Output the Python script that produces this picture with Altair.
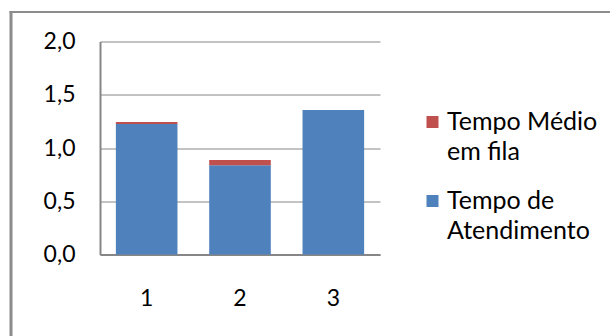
import altair as alt
import pandas as pd

# ---- data ----
categories = ["1", "2", "3"]
tempo_atendimento = [1.225, 0.838, 1.357]
tempo_fila = [0.019, 0.049, 0.0]
series_names = ["Tempo Médio\nem fila", "Tempo de\nAtendimento"]
series_colors = ["#C0504D", "#4F81BD"]
y_ticks = [0.0, 0.5, 1.0, 1.5, 2.0]

rows = []
for c, a, f in zip(categories, tempo_atendimento, tempo_fila):
    rows.append({"cat": c, "serie": series_names[1], "valor": a, "ordem": 0})
    rows.append({"cat": c, "serie": series_names[0], "valor": f, "ordem": 1})
df = pd.DataFrame(rows)

FONT = "Lato"
GRID = "#868686"

bars = alt.Chart(df).mark_bar().encode(
    x=alt.X(
        "cat:N", title=None, sort=categories,
        scale=alt.Scale(paddingInner=0.34, paddingOuter=0.17),
        axis=alt.Axis(labelAngle=0, ticks=False, tickSize=0, domainColor=GRID,
                      domainWidth=2, labelPadding=33, labelFontSize=23,
                      labelFont=FONT, labelColor="#000000", grid=False),
    ),
    y=alt.Y(
        "valor:Q", title=None, stack="zero",
        scale=alt.Scale(domain=[0, 2], nice=False),
        axis=alt.Axis(values=y_ticks,
                      labelExpr="replace(format(datum.value, '.1f'), '.', ',')",
                      ticks=False, tickSize=0, labelPadding=25, labelFontSize=23,
                      labelFont=FONT, labelColor="#000000", domainColor=GRID,
                      domainWidth=2, gridColor=GRID, gridWidth=1, grid=True),
    ),
    color=alt.Color(
        "serie:N",
        scale=alt.Scale(domain=series_names, range=series_colors),
        legend=alt.Legend(
            title=None, orient="none", legendX=320, legendY=68, padding=0,
            symbolType="square", symbolSize=144,
            symbolStrokeWidth=0, labelFont=FONT, labelFontSize=25,
            labelBaseline="middle", labelLimit=300,
            labelOffset=2, rowPadding=23, labelColor="#000000",
            labelExpr="split(datum.label, '\\n')",
        ),
    ),
    order=alt.Order("ordem:Q"),
)

frame_data = alt.Data(values=[{"k": 1}])
left_border = alt.Chart(frame_data).mark_rule(color="#8c8c8c", strokeWidth=3).encode(
    x=alt.value(-89), y=alt.value(-30.5), y2=alt.value(300)
)
top_border = alt.Chart(frame_data).mark_rule(color="#8c8c8c", strokeWidth=2).encode(
    x=alt.value(-90.5), x2=alt.value(520), y=alt.value(-29.5)
)

chart = alt.layer(bars, left_border, top_border).properties(
    width=280, height=213,
    autosize=alt.AutoSizeParams(type="none"),
    padding={"left": 100, "top": 41.5, "right": 230, "bottom": 81.5},
).configure(
    background="#ffffff",
    view=alt.ViewConfig(stroke="transparent"),
    style={"guide-label": {"lineHeight": 30}},
)

chart.save("out.html", embed_options={"renderer": "svg", "actions": False})
